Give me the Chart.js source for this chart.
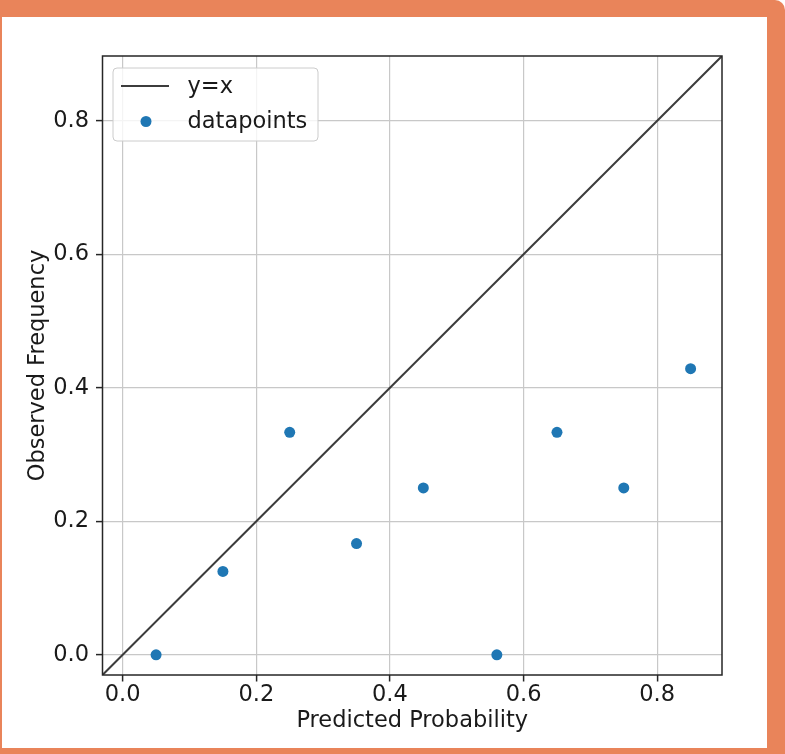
<!DOCTYPE html>
<html><head><meta charset="utf-8">
<script src="https://cdn.jsdelivr.net/npm/chart.js@4"></script>
<style>html,body{margin:0;padding:0;background:#fff;}#wrap{width:785px;height:754px;}canvas{display:block}</style>
</head><body><div id="wrap"><canvas id="c" width="785" height="754"></canvas></div>
<script>
const predicted = [0.05, 0.15, 0.25, 0.35, 0.45, 0.56, 0.65, 0.75, 0.85];
const observed = [0.0, 0.125, 0.3333, 0.1667, 0.25, 0.0, 0.3333, 0.25, 0.4286];
const tickValues = [0.0, 0.2, 0.4, 0.6, 0.8];
const tickLabels = ['0.0', '0.2', '0.4', '0.6', '0.8'];
const axisRange = [-0.0302, 0.897];
const diagonal = [-0.1, 1.0];
const seriesLabels = ['y=x', 'datapoints'];
const axisTitles = ['Predicted Probability', 'Observed Frequency'];

const FONT = "'DejaVu Sans', sans-serif";
const FSIZE = 22.5;
const TEXT = '#1a1a1a';
const LINE_COLOR = '#3c3c3c';
const DOT_COLOR = '#1f77b4';

const framePlugin = {
  id: 'frame',
  beforeDraw(chart) {
    const ctx = chart.ctx;
    ctx.save();
    ctx.fillStyle = '#ffffff';
    ctx.fillRect(0, 0, chart.width, chart.height);
    ctx.fillStyle = '#E9845A';
    ctx.beginPath();
    ctx.roundRect(0, 0, chart.width, chart.height, [0, 10, 0, 0]);
    ctx.fill();
    ctx.fillStyle = '#ffffff';
    ctx.fillRect(2, 17, 765, 731);
    ctx.restore();
  },
  afterDatasetsDraw(chart) {
    const a = chart.chartArea, ctx = chart.ctx;
    ctx.save();
    ctx.strokeStyle = '#262626';
    ctx.lineWidth = 1.5;
    ctx.strokeRect(a.left, a.top, a.right - a.left, a.bottom - a.top);
    ctx.restore();
  },
  afterDraw(chart) {
    const ctx = chart.ctx;
    const ds = chart.data.datasets;
    ctx.save();
    ctx.beginPath();
    ctx.roundRect(113, 68, 205, 73, 4);
    ctx.fillStyle = 'rgba(255,255,255,0.8)';
    ctx.fill();
    ctx.strokeStyle = '#cccccc';
    ctx.lineWidth = 1;
    ctx.stroke();
    ctx.beginPath();
    ctx.moveTo(121, 86);
    ctx.lineTo(169, 86);
    ctx.strokeStyle = LINE_COLOR;
    ctx.lineWidth = 2;
    ctx.stroke();
    ctx.beginPath();
    ctx.arc(146, 121.5, 5.5, 0, Math.PI * 2);
    ctx.fillStyle = DOT_COLOR;
    ctx.fill();
    ctx.fillStyle = TEXT;
    ctx.font = FSIZE + 'px ' + FONT;
    ctx.textAlign = 'left';
    ctx.textBaseline = 'middle';
    ctx.fillText(ds[0].label, 187.5, 87.5);
    ctx.fillText(ds[1].label, 187.5, 122.5);
    ctx.restore();
  }
};

function scaleOpts(titleText, isX) {
  return {
    type: 'linear',
    min: axisRange[0],
    max: axisRange[1],
    afterBuildTicks: s => { s.ticks = tickValues.map(v => ({ value: v })); },
    afterFit: s => { if (isX) s.height = 59.5; else s.width = 102.5; },
    ticks: {
      callback: v => tickLabels[tickValues.indexOf(v)],
      font: { family: FONT, size: FSIZE },
      color: TEXT,
      padding: isX ? 0 : 7,
      maxRotation: 0,
      autoSkip: false
    },
    grid: {
      color: '#c8c8c8',
      lineWidth: 1.2,
      tickColor: '#262626',
      tickLength: 6.5,
      tickWidth: 1.5
    },
    border: { display: false },
    title: {
      display: true,
      text: titleText,
      color: TEXT,
      font: { family: FONT, size: FSIZE },
      padding: isX ? { top: 0, bottom: 0 } : { top: 24.5, bottom: 0 }
    }
  };
}

new Chart(document.getElementById('c'), {
  type: 'scatter',
  data: {
    datasets: [
      {
        type: 'line',
        label: seriesLabels[0],
        data: diagonal.map(v => ({ x: v, y: v })),
        borderColor: LINE_COLOR,
        borderWidth: 2,
        pointRadius: 0,
        fill: false,
        order: 2
      },
      {
        type: 'scatter',
        label: seriesLabels[1],
        data: predicted.map((p, i) => ({ x: p, y: observed[i] })),
        backgroundColor: DOT_COLOR,
        borderWidth: 0,
        pointRadius: 5.5,
        order: 1
      }
    ]
  },
  options: {
    responsive: false,
    animation: false,
    devicePixelRatio: 1,
    layout: { padding: { left: 0, top: 56, right: 63, bottom: 19.5 } },
    plugins: { legend: { display: false }, tooltip: { enabled: false } },
    scales: {
      x: scaleOpts(axisTitles[0], true),
      y: scaleOpts(axisTitles[1], false)
    }
  },
  plugins: [framePlugin]
});
</script>
</body></html>
